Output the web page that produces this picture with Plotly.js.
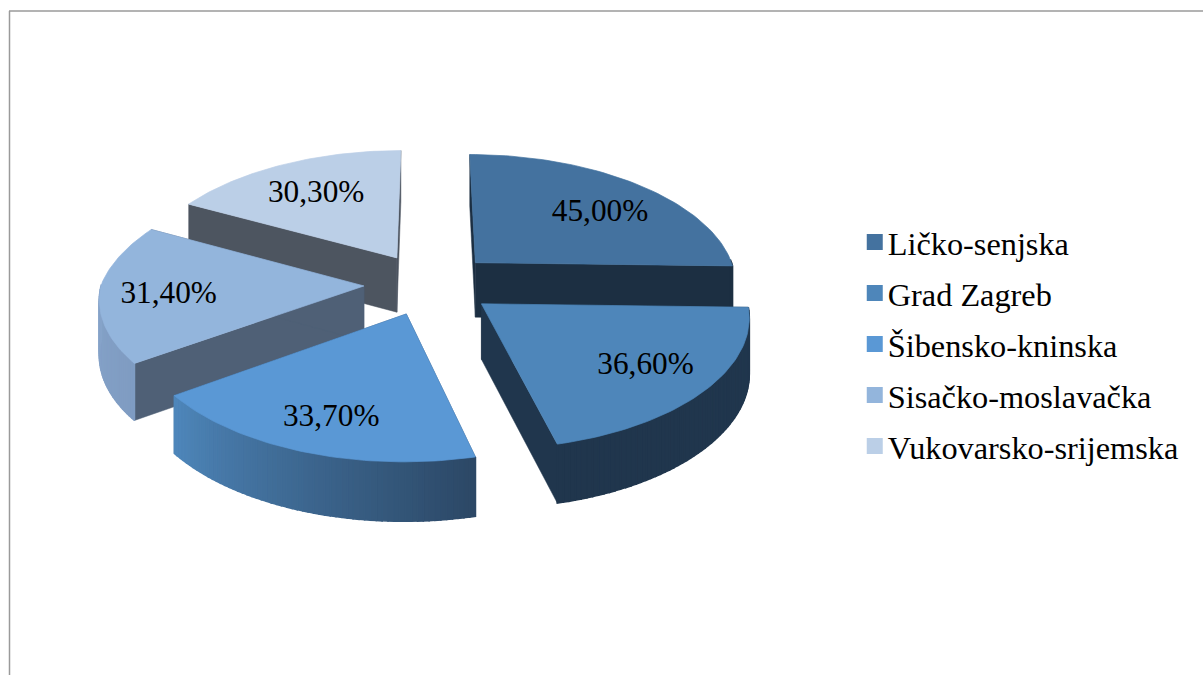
<!DOCTYPE html>
<html>
<head>
<meta charset="utf-8">
<script src="https://cdn.plot.ly/plotly-3.0.1.min.js"></script>
<style>html,body{margin:0;padding:0;background:#fff}#chart{width:1203px;height:675px}</style>
</head>
<body>
<div id="chart"></div>
<script>
// Data
const regions = ["Ličko-senjska", "Grad Zagreb", "Šibensko-kninska", "Sisačko-moslavačka", "Vukovarsko-srijemska"];
const values = [45.0, 36.6, 33.7, 31.4, 30.3];

// Styles
const topColors = ["#44729F", "#4E86BA", "#5A98D5", "#93B5DC", "#BBCFE7"];
const cutColors = ["#1C2F42", "#20364D", "#2A4562", "#4F6076", "#4D5560"];
const wallFrom = ["#1C2F42", "#20364D", "#2C4866", "#7F9CC2", "#4D5560"];
const wallTo = ["#1C2F42", "#20364D", "#4E86BA", "#8BA8CE", "#4D5560"];
const labelRadius = [0.68, 0.74, 0.775, 0.74, 0.668];
const labelTurn = [5, -0.7, -1, -2.4, -1];
const drawOrder = [4, 0, 3, 1, 2];

// Pseudo 3D projection of the pie plane
const cx = 429.5, cy = 284, A = 262.5, B = 124.5, kFront = 0.09, kBack = 0.143, kY = 0.11, kH = 0.06, H = 55, pull = 0.25;
const project = (u, v, z) => {
  const dx = 1 / (1 - (v > 0 ? kFront : kBack) * v);
  const dy = 1 / (1 - kY * v);
  const dh = 1 / (1 - kH * v);
  return [cx + A * u * dx, cy + B * v * dy + H * z * dh];
};
const total = values.reduce((a, b) => a + b, 0);
const rad = a => a * Math.PI / 180;
let cum = 0;
const angles = values.map(v => { const s = cum; cum += v / total * 360; return [s, cum]; });
const hex = c => [1, 3, 5].map(i => parseInt(c.substr(i, 2), 16));
const mix = (a, b, t) => { const A1 = hex(a), B1 = hex(b); return "rgb(" + A1.map((x, i) => Math.round(x + (B1[i] - x) * t)).join(",") + ")"; };

const traces = [];
const poly = (pts, color, lw) => traces.push({
  x: pts.map(p => p[0]).concat([pts[0][0]]), y: pts.map(p => p[1]).concat([pts[0][1]]),
  mode: "lines", fill: "toself", fillcolor: color, line: { color: color, width: lw },
  hoverinfo: "skip", showlegend: false, type: "scatter"
});
const pt = (i, ang, r, z) => {
  const m = rad((angles[i][0] + angles[i][1]) / 2);
  const t = rad(ang);
  return project(pull * Math.sin(m) + r * Math.sin(t), -pull * Math.cos(m) - r * Math.cos(t), z);
};

drawOrder.forEach(i => {
  const [a0, a1] = angles[i];
  // radial cut faces
  [a0, a1].forEach(a => poly([pt(i, a, 0, 0), pt(i, a, 1, 0), pt(i, a, 1, 1), pt(i, a, 0, 1)], cutColors[i], 0.5));
  // outer wall strips, only where it faces the viewer
  const n = 60;
  for (let s = 0; s < n; s++) {
    const p0 = a0 + (a1 - a0) * s / n, p1 = a0 + (a1 - a0) * (s + 1) / n;
    const pm = (p0 + p1) / 2;
    if (Math.cos(rad(pm)) > 0.02) continue;
    poly([pt(i, p0, 1, 0), pt(i, p1, 1, 0), pt(i, p1, 1, 1), pt(i, p0, 1, 1)], mix(wallFrom[i], wallTo[i], s / (n - 1)), 1.6);
  }
  // top face
  const top = [pt(i, a0, 0, 0)];
  for (let s = 0; s <= 60; s++) top.push(pt(i, a0 + (a1 - a0) * s / 60, 1, 0));
  poly(top, topColors[i], 0.7);
});

// value labels
const labelPts = values.map((v, i) => pt(i, (angles[i][0] + angles[i][1]) / 2 + labelTurn[i], labelRadius[i], 0));
traces.push({
  type: "scatter", mode: "text", x: labelPts.map(p => p[0]), y: labelPts.map(p => p[1]),
  text: values.map(v => v.toFixed(2).replace(".", ",") + "%"),
  textposition: "middle center", textfont: { family: "Liberation Serif", size: 31.3, color: "#000" },
  hoverinfo: "skip", showlegend: false
});

// legend entries
regions.forEach((name, i) => traces.push({
  type: "scatter", mode: "markers", name: name, x: [null], y: [null], legendgroup: name,
  marker: { symbol: "square", size: 16, color: topColors[i] }
}));

const layout = {
  width: 1203, height: 675, margin: { l: 0, r: 0, t: 0, b: 0 },
  paper_bgcolor: "#fff", plot_bgcolor: "#fff",
  xaxis: { range: [0, 1203], visible: false, fixedrange: true },
  yaxis: { range: [675, 0], visible: false, fixedrange: true },
  legend: {
    x: 0.7047, y: 0.6822, xanchor: "left", yanchor: "top", traceorder: "grouped", tracegroupgap: 6,
    font: { family: "Liberation Serif", size: 32.3, color: "#000" }, bgcolor: "rgba(0,0,0,0)"
  },
  shapes: [
    { type: "line", x0: 9.5, x1: 9.5, y0: 11, y1: 675, line: { color: "#9a9a9a", width: 1.5 } },
    { type: "line", x0: 9, x1: 1203, y0: 11, y1: 11, line: { color: "#9a9a9a", width: 1.5 } }
  ],
  showlegend: true
};
Plotly.newPlot("chart", traces, layout, { displayModeBar: false, staticPlot: true }).then(() => {
  document.querySelectorAll(".legend .legendsymbols").forEach(el => el.setAttribute("transform", "translate(7,0)"));
});
</script>
</body>
</html>
